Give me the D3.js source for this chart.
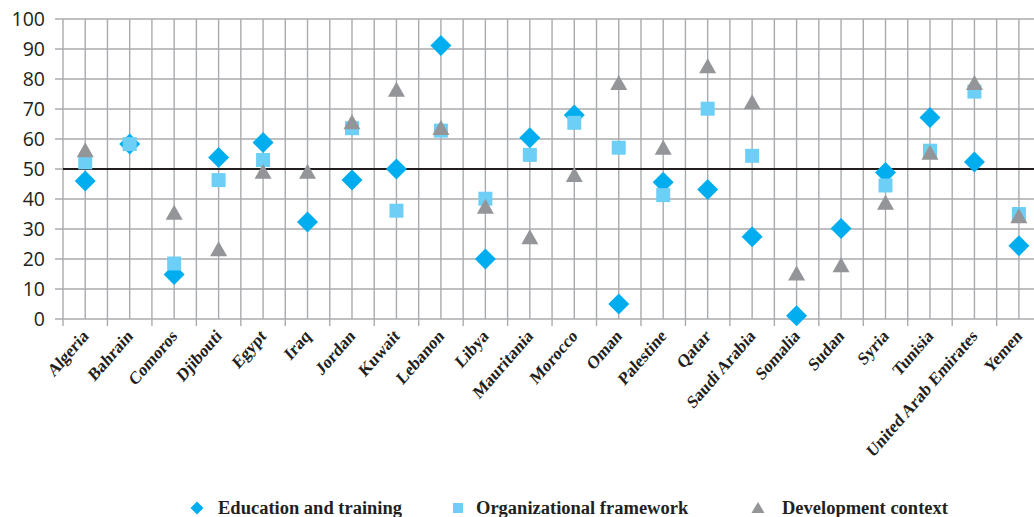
<!DOCTYPE html>
<html>
<head>
<meta charset="utf-8">
<script src="https://cdn.jsdelivr.net/npm/d3@7"></script>
<style>
  html, body { margin: 0; padding: 0; background: #fff; }
  svg { display: block; }
</style>
</head>
<body>
<svg id="chart" width="1034" height="517"></svg>
<script>
// Arab countries, scores on three dimensions (0–100)
const countries = ["Algeria", "Bahrain", "Comoros", "Djibouti", "Egypt", "Iraq", "Jordan", "Kuwait",
  "Lebanon", "Libya", "Mauritania", "Morocco", "Oman", "Palestine", "Qatar", "Saudi Arabia",
  "Somalia", "Sudan", "Syria", "Tunisia", "United Arab Emirates", "Yemen"];

const education = [46, 58.3, 14.8, 53.8, 58.8, 32.3, 46.3, 50, 91.2, 20, 60.4, 68, 5, 45.6,
  43.2, 27.4, 1.1, 30.2, 48.8, 67.2, 52.3, 24.4];
const organizational = [52.2, 58.3, 18.5, 46.3, 53, null, 63.6, 36.1, 62.8, 40.1, 54.7, 65.4,
  57.1, 41.3, 70.1, 54.4, null, null, 44.5, 56.1, 75.8, 35];
const development = [56.2, null, 35.3, 23.2, 49, 49, 65.5, 76.3, 63.6, 37.3, 27.2, 47.9,
  78.6, 57, 84.2, 72.2, 15.1, 17.8, 38.7, 55.3, 78.6, 34.2];

const yTicks = [0, 10, 20, 30, 40, 50, 60, 70, 80, 90, 100];
const referenceLevel = 50;

const seriesNames = ["Education and training", "Organizational framework", "Development context"];
const colors = { edu: "#00aeef", org: "#6dcff6", dev: "#939598" };

const svg = d3.select("#chart");
const plotLeft = 63, plotTop = 19, plotBottom = 319;
const band = 44.46;

const x = d3.scaleBand().domain(countries).range([plotLeft, plotLeft + band * countries.length]).padding(0);
const y = d3.scaleLinear().domain([0, 100]).range([plotBottom, plotTop]);

const gridColor = "#a9abae";

// horizontal gridlines (with short tick stubs on the left)
svg.append("g").selectAll("line").data(yTicks).join("line")
  .attr("x1", plotLeft - 8).attr("x2", x.range()[1])
  .attr("y1", d => y(d)).attr("y2", d => y(d))
  .attr("stroke", gridColor).attr("stroke-width", 1.4);

// vertical gridlines at band edges and centres
const vLines = [];
countries.forEach(c => { vLines.push(x(c)); vLines.push(x(c) + x.bandwidth() / 2); });
vLines.push(x.range()[1]);
svg.append("g").selectAll("line").data(vLines).join("line")
  .attr("x1", d => d).attr("x2", d => d)
  .attr("y1", y(100)).attr("y2", y(0))
  .attr("stroke", gridColor).attr("stroke-width", 1.4);

// bottom tick marks at band edges
const edges = countries.map(c => x(c)).concat([x.range()[1]]);
svg.append("g").selectAll("line").data(edges).join("line")
  .attr("x1", d => d).attr("x2", d => d)
  .attr("y1", y(0)).attr("y2", y(0) + 7)
  .attr("stroke", gridColor).attr("stroke-width", 1.4);

// y-axis labels
svg.append("g").selectAll("text").data(yTicks).join("text")
  .attr("x", 45).attr("y", d => y(d))
  .attr("dy", "0.36em")
  .attr("text-anchor", "end")
  .attr("font-family", "'Open Sans', sans-serif")
  .attr("font-size", 19.5)
  .attr("fill", "#231f20")
  .text(d => d);

// reference line at 50
svg.append("line")
  .attr("x1", plotLeft).attr("x2", x.range()[1])
  .attr("y1", y(referenceLevel)).attr("y2", y(referenceLevel))
  .attr("stroke", "#231f20").attr("stroke-width", 2);

// category labels, slanted upward to the right
svg.append("g").selectAll("text").data(countries).join("text")
  .attr("transform", d => `translate(${x(d) + x.bandwidth() / 2 + 4},${y(0) + 18}) scale(1,1.15) rotate(-45)`)
  .attr("text-anchor", "end")
  .attr("font-family", "'Liberation Serif', 'Times New Roman', serif")
  .attr("font-weight", "bold")
  .attr("font-size", 15.8)
  .attr("fill", "#231f20")
  .text(d => d);

// marker shapes
const diamondPath = r => `M0,${-r}L${r},0L0,${r}L${-r},0Z`;
const squarePath = s => `M${-s / 2},${-s / 2}h${s}v${s}h${-s}Z`;
const trianglePath = (w, h) => `M0,${-h * 0.55}L${w / 2},${h * 0.45}L${-w / 2},${h * 0.45}Z`;

const cx = i => x(countries[i]) + x.bandwidth() / 2;

function drawSeries(values, path, color) {
  svg.append("g").selectAll("path")
    .data(values.map((v, i) => ({ v, i })).filter(d => d.v !== null))
    .join("path")
    .attr("transform", d => `translate(${cx(d.i)},${y(d.v)})`)
    .attr("d", path)
    .attr("fill", color);
}

drawSeries(education, diamondPath(10.5), colors.edu);
drawSeries(organizational, squarePath(14), colors.org);
drawSeries(development, trianglePath(17, 15), colors.dev);

// legend
const legend = svg.append("g").attr("font-family", "'Liberation Serif', 'Times New Roman', serif")
  .attr("font-weight", "bold").attr("font-size", 18.5).attr("fill", "#231f20");
const legendItems = [
  { name: seriesNames[0], mx: 197, tx: 218, path: diamondPath(6.5), color: colors.edu },
  { name: seriesNames[1], mx: 458, tx: 476, path: squarePath(10), color: colors.org },
  { name: seriesNames[2], mx: 758, tx: 782, path: trianglePath(13, 11), color: colors.dev }
];
legendItems.forEach(it => {
  legend.append("path").attr("transform", `translate(${it.mx},508)`).attr("d", it.path).attr("fill", it.color);
  legend.append("text").attr("x", it.tx).attr("y", 514).text(it.name);
});
</script>
</body>
</html>
